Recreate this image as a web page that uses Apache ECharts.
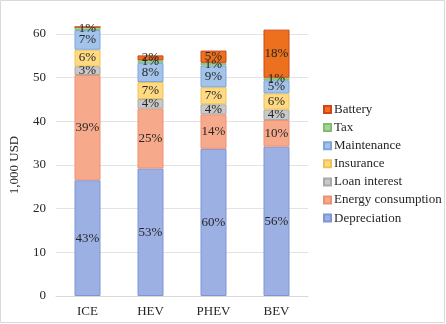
<!DOCTYPE html>
<html>
<head>
<meta charset="utf-8">
<script src="https://cdn.jsdelivr.net/npm/echarts@6/dist/echarts.min.js"></script>
<style>
html,body{margin:0;padding:0;background:#fff;}
#c{width:446px;height:324px;}
</style>
</head>
<body>
<div id="c"></div>
<script>
const categories = ['ICE', 'HEV', 'PHEV', 'BEV'];
const depreciation = [26.5, 29.2, 33.7, 34.2];
const energy = [24.1, 13.7, 7.9, 6.1];
const loan = [2.0, 2.2, 2.3, 2.4];
const insurance = [3.8, 3.9, 3.9, 3.7];
const maintenance = [4.5, 4.4, 5.0, 3.0];
const tax = [0.7, 0.6, 0.6, 0.6];
const battery = [0, 1.1, 2.8, 11.0];

const depPct = ['43%', '53%', '60%', '56%'];
const energyPct = ['39%', '25%', '14%', '10%'];
const loanPct = ['3%', '4%', '4%', '4%'];
const insPct = ['6%', '7%', '7%', '6%'];
const maintPct = ['7%', '8%', '9%', '5%'];
const taxPct = ['1%', '1%', '1%', '1%'];
const batteryPct = ['', '2%', '5%', '18%'];

const yTicks = { min: 0, max: 60, interval: 10 };

const FONT = '"Liberation Serif", "Times New Roman", serif';

const seriesDefs = [
  { name: 'Depreciation', data: depreciation, pct: depPct, color: '#9DB0E3', border: '#7F96D6' },
  { name: 'Energy consumption', data: energy, pct: energyPct, color: '#F7AA8B', border: '#EE9173' },
  { name: 'Loan interest', data: loan, pct: loanPct, color: '#C9C9C9', border: '#AAAAAA' },
  { name: 'Insurance', data: insurance, pct: insPct, color: '#FFDA83', border: '#F0C255' },
  { name: 'Maintenance', data: maintenance, pct: maintPct, color: '#A4C3EA', border: '#7EA5DA' },
  { name: 'Tax', data: tax, pct: taxPct, color: '#A8D49A', border: '#7DBD6B' },
  { name: 'Battery', data: battery, pct: batteryPct, color: '#EC701D', border: '#D2451B' }
];

const chart = echarts.init(document.getElementById('c'), null, { renderer: 'canvas' });

chart.setOption({
  animation: false,
  backgroundColor: '#fff',
  textStyle: { fontFamily: FONT },
  grid: { left: 50, right: 138, top: 34, bottom: 28, containLabel: false },
  xAxis: {
    type: 'category',
    data: categories,
    axisTick: { show: false },
    axisLine: { show: true, lineStyle: { color: '#D9D9D9' } },
    axisLabel: { color: '#262626', fontFamily: FONT, fontSize: 13, margin: 9 }
  },
  yAxis: {
    type: 'value',
    min: yTicks.min, max: yTicks.max, interval: yTicks.interval,
    name: '1,000 USD',
    nameLocation: 'middle',
    nameRotate: 90,
    nameGap: 35,
    nameTextStyle: { color: '#262626', fontFamily: FONT, fontSize: 13 },
    axisLine: { show: false },
    axisTick: { show: false },
    splitLine: { lineStyle: { color: '#E3E3E3' } },
    axisLabel: { color: '#262626', fontFamily: FONT, fontSize: 13, margin: 10 }
  },
  legend: {
    orient: 'vertical',
    left: 318,
    top: 98,
    itemWidth: 7,
    itemHeight: 7,
    itemGap: 5.1,
    icon: 'rect',
    data: ['Battery', 'Tax', 'Maintenance', 'Insurance', 'Loan interest', 'Energy consumption', 'Depreciation'],
    textStyle: { color: '#262626', fontFamily: FONT, fontSize: 13, padding: [0, 0, 0, -2] }
  },
  graphic: [{
    type: 'rect',
    shape: { x: 0.5, y: 0.5, width: 444, height: 322 },
    style: { fill: 'none', stroke: '#D9D9D9', lineWidth: 1 },
    silent: true
  }],
  series: seriesDefs.map(s => ({
    name: s.name,
    type: 'bar',
    stack: 'total',
    barWidth: 26,
    clip: false,
    data: s.data,
    itemStyle: { color: s.color, borderColor: s.border, borderWidth: 1 },
    label: {
      show: true,
      position: 'inside',
      fontFamily: FONT,
      fontSize: 13,
      color: '#262626',
      formatter: p => s.pct[p.dataIndex]
    }
  }))
});
</script>
</body>
</html>
